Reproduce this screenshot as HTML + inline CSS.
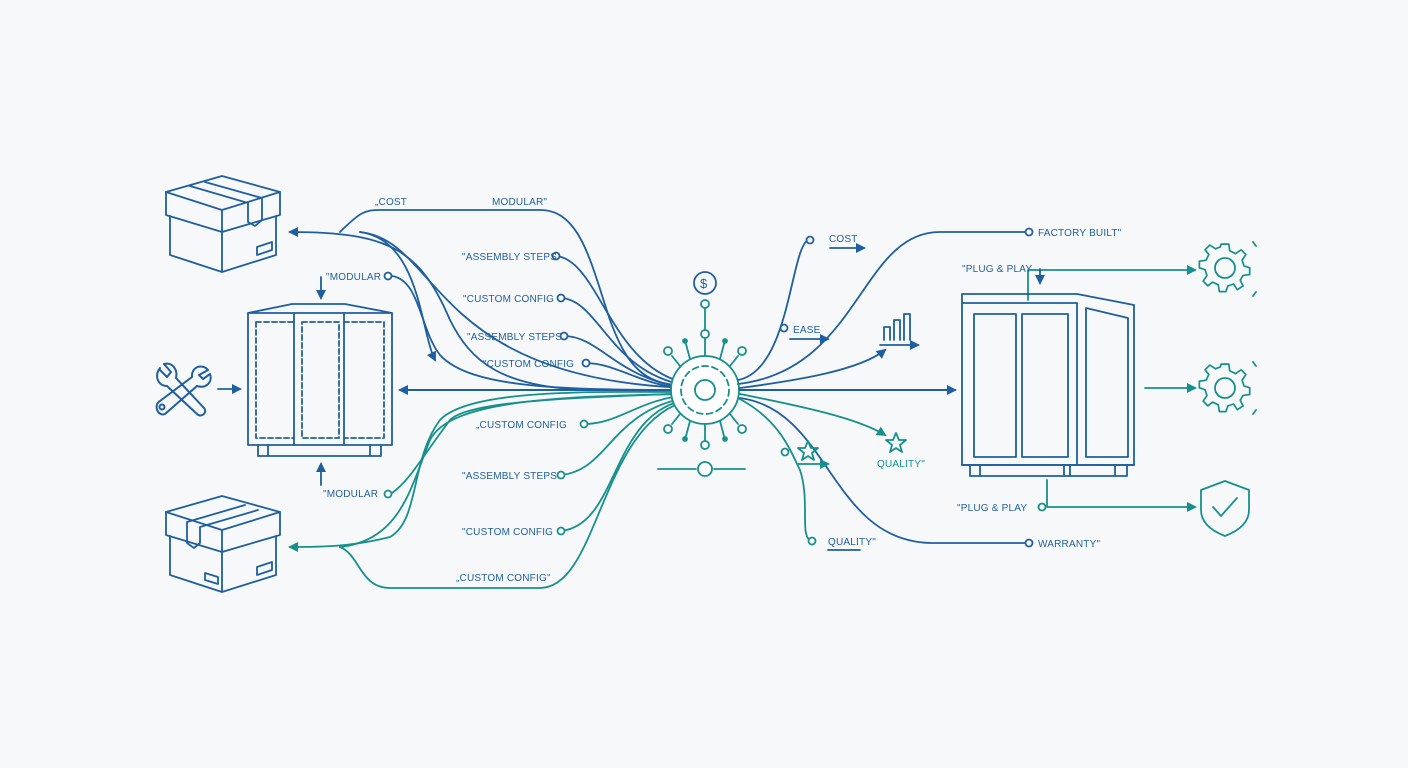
<!DOCTYPE html>
<html><head><meta charset="utf-8"><style>
body{margin:0;background:#f7f8f9;width:1408px;height:768px;overflow:hidden}
svg{display:block}
text{font-family:"Liberation Sans",sans-serif;font-size:10px;letter-spacing:0.2px}
</style></head><body>
<svg width="1408" height="768" viewBox="0 0 1408 768" xmlns="http://www.w3.org/2000/svg">
<defs>
<marker id="ab" markerWidth="10" markerHeight="10" refX="8" refY="5" orient="auto" markerUnits="userSpaceOnUse"><path d="M0,0 L10,5 L0,10 z" fill="#1f5f9e"/></marker>
<marker id="at" markerWidth="10" markerHeight="10" refX="8" refY="5" orient="auto" markerUnits="userSpaceOnUse"><path d="M0,0 L10,5 L0,10 z" fill="#17908c"/></marker>
</defs>
<rect width="1408" height="768" fill="#f7f8f9"/>
<g fill="none" stroke-width="1.8" stroke-linecap="round" stroke-linejoin="round">
<g stroke="#1f5f9e">
<path d="M166,192 L222,176 L280,192 L280,215 L222,232 L166,215 Z"/>
<path d="M166,192 L222,210 L280,192 M222,210 L222,272 M170,216 L170,255 L222,272 L276,255 L276,216"/>
<path d="M190,186 L248,203 M205,182 L262,198 M248,203 L248,222 L255,226 L262,220 L262,198"/>
<path d="M257,247 L272,242 L272,250 L257,255 Z"/>
</g>
<g stroke="#1f5f9e">
<path d="M166,512 L222,496 L280,512 L280,535 L222,552 L166,535 Z"/>
<path d="M166,512 L222,530 L280,512 M222,530 L222,592 M170,536 L170,575 L222,592 L276,575 L276,536"/>
<path d="M187,522 L245,505 M200,527 L258,510 M187,522 L187,543 L194,548 L200,543 L200,527"/>
<path d="M257,567 L272,562 L272,570 L257,575 Z M205,573 L218,577 L218,584 L205,580 Z"/>
</g>
<g stroke="#1f5f9e">
<path d="M248,313 L292,304 L345,304 L392,313"/>
<rect x="248" y="313" width="144" height="132"/>
<path d="M294,313 L294,445 M344,313 L344,445"/>
<path d="M256,322 L294,322 M256,322 L256,438 L294,438 M302,322 L339,322 L339,438 L302,438 Z M344,322 L384,322 L384,438 L344,438" stroke-dasharray="5,3"/>
<path d="M258,445 L258,456 L381,456 L381,445 M268,445 L268,456 M370,445 L370,456"/>
<path d="M321,277 L321,298" marker-end="url(#ab)"/>
<path d="M321,485 L321,464" marker-end="url(#ab)"/>
<path d="M218,389 L240,389" marker-end="url(#ab)"/>
</g>
<g stroke="#1f5f9e" stroke-width="2">
<path d="M160,368 C154,376 158,386 167,386 L197,414 C201,418 208,413 204,408 L176,378 C178,369 172,362 164,364 L171,372 L167,377 L160,370"/>
<path d="M208,370 C202,363 191,367 192,377 L160,401 C153,405 158,417 165,414 L197,386 C206,389 213,382 210,374 L203,379 L199,375 Z"/>
<circle cx="162" cy="407" r="2.5"/>
</g>
<g stroke="#1f5f9e">
<path d="M600,390 C500,390 470,360 450,320 C420,250 390,232 290,232" marker-end="url(#ab)"/>
<path d="M340,232 C360,212 365,210 380,210 L540,210 C580,210 590,260 610,320 C630,375 650,385 690,386"/>
<path d="M360,232 C420,240 420,330 435,360" marker-end="url(#ab)"/>
<path d="M360,232 C440,240 430,380 690,388"/>
<path d="M556,256 C600,260 610,370 690,384"/>
<path d="M561,298 C600,300 610,375 690,386"/>
<path d="M564,336 C600,336 620,382 690,388"/>
<path d="M586,363 C620,364 640,386 690,389"/>
<path d="M392,276 C420,280 420,330 440,355 C470,388 560,390 690,390"/>
<path d="M690,390 L400,390" stroke-width="2" marker-end="url(#ab)"/>
</g>
<g stroke="#1f5f9e" fill="#fff"><circle cx="556" cy="256" r="3.5"/><circle cx="561" cy="298" r="3.5"/><circle cx="564" cy="336" r="3.5"/><circle cx="586" cy="363" r="3.5"/><circle cx="388" cy="276" r="3.5"/></g>
<g stroke="#17908c">
<path d="M690,392 C600,392 470,388 440,420 C410,460 420,520 390,537 C350,547 320,547 290,547" marker-end="url(#at)"/>
<path d="M690,394 C560,396 450,400 430,440 C410,490 400,540 340,547"/>
<path d="M690,393 C580,398 470,400 450,420 C420,460 410,480 392,493"/>
<path d="M584,424 C620,424 640,398 690,395"/>
<path d="M561,475 C610,470 610,410 690,397"/>
<path d="M561,531 C620,525 610,410 690,399"/>
<path d="M340,547 C360,555 360,588 390,588 L540,588 C600,588 600,420 690,400"/>
</g>
<g stroke="#17908c" fill="#fff"><circle cx="584" cy="424" r="3.5"/><circle cx="561" cy="475" r="3.5"/><circle cx="561" cy="531" r="3.5"/><circle cx="388" cy="494" r="3.5"/></g>
<g stroke="#17908c">
<circle cx="705" cy="390" r="34" fill="#fff"/>
<circle cx="705" cy="390" r="10"/>
<circle cx="705" cy="390" r="24" stroke-dasharray="6,4"/>
<path d="M705,356 L705,338 M705,330 L705,308"/>
<circle cx="705" cy="334" r="4" fill="#fff"/><circle cx="705" cy="304" r="4" fill="#fff"/>
<circle cx="705" cy="283" r="11" stroke="#1f5f9e"/>
<path d="M705,424 L705,440"/><circle cx="705" cy="445" r="4" fill="#fff"/>
<path d="M680,366 L672,356 M730,366 L738,356 M680,414 L672,424 M730,414 L738,424 M690,359 L686,344 M720,359 L724,344 M690,421 L686,436 M720,421 L724,436"/>
<circle cx="668" cy="351" r="4" fill="#fff"/><circle cx="742" cy="351" r="4" fill="#fff"/><circle cx="668" cy="429" r="4" fill="#fff"/><circle cx="742" cy="429" r="4" fill="#fff"/>
<circle cx="685" cy="341" r="2" fill="#17908c"/><circle cx="725" cy="341" r="2" fill="#17908c"/><circle cx="685" cy="439" r="2" fill="#17908c"/><circle cx="725" cy="439" r="2" fill="#17908c"/>
<path d="M658,469 L696,469 M714,469 L745,469"/><circle cx="705" cy="469" r="7" fill="#fff"/>
</g>
<text x="700" y="288" fill="#1f5f9e" style="font-size:13px" stroke="none">$</text>
<g stroke="#1f5f9e">
<path d="M738,380 C790,370 790,250 808,240"/>
<path d="M738,384 C860,370 860,232 940,232 L1028,232"/>
<path d="M740,388 C800,380 860,370 885,350" marker-end="url(#ab)"/>
<path d="M740,390 L955,390" stroke-width="2" marker-end="url(#ab)"/>
<path d="M740,398 C830,410 830,540 930,543 L1028,543"/>
<path d="M830,248 L864,248" marker-end="url(#ab)"/>
<path d="M790,339 L828,339" marker-end="url(#ab)"/>
<path d="M880,345 L918,345" marker-end="url(#ab)"/>
<path d="M884,340 L884,327 L890,327 L890,340 M894,340 L894,320 L900,320 L900,340 M904,340 L904,314 L910,314 L910,340"/>
</g>
<g stroke="#17908c">
<path d="M740,394 C820,410 860,420 885,435" marker-end="url(#at)"/>
<path d="M738,398 C780,420 790,450 800,470 C810,500 800,535 810,540"/>
<path d="M1028,300 L1028,270 L1195,270" marker-end="url(#at)"/>
<path d="M1040,269 L1040,283" marker-end="url(#ab)" stroke="#1f5f9e"/>
<path d="M1145,388 L1195,388" marker-end="url(#at)"/>
<path d="M1047,480 L1047,507 L1195,507" marker-end="url(#at)"/>
<path d="M797,464 L828,464" marker-end="url(#at)"/>
<path d="M808,441 L811,448 L818,448 L812,453 L814,460 L808,456 L802,460 L804,453 L798,448 L805,448 Z"/>
<path d="M896,433 L899,440 L906,440 L900,445 L902,452 L896,448 L890,452 L892,445 L886,440 L893,440 Z"/>
</g>
<g fill="#fff">
<circle cx="810" cy="240" r="3.5" stroke="#1f5f9e"/><circle cx="1029" cy="232" r="3.5" stroke="#1f5f9e"/><circle cx="784" cy="328" r="3.5" stroke="#1f5f9e"/><circle cx="1029" cy="543" r="3.5" stroke="#1f5f9e"/>
<circle cx="812" cy="541" r="3.5" stroke="#17908c"/><circle cx="785" cy="452" r="3.5" stroke="#17908c"/><circle cx="1042" cy="507" r="3.5" stroke="#17908c"/>
</g>
<path d="M828,550 L860,550" stroke="#1f5f9e"/>
<g stroke="#1f5f9e">
<path d="M962,303 L962,294 L1077,294 L1134,305 L1134,465 L962,465 Z M962,303 L1077,303 L1077,465"/>
<rect x="974" y="314" width="42" height="143"/><rect x="1022" y="314" width="46" height="143"/>
<path d="M1086,308 L1128,318 L1128,457 L1086,457 Z"/>
<path d="M962,465 L1134,465 M970,465 L970,476 L1127,476 L1127,465 M980,465 L980,476 M1064,465 L1064,476 M1070,465 L1070,476 M1115,465 L1115,476"/>
</g>
<g stroke="#17908c">
<g transform="translate(1225,268)"><path id="gear" d="M-4,-22 L4,-22 L5,-15 L11,-12 L17,-16 L22,-11 L18,-5 L20,1 L26,3 L26,10 L19,11 L16,16 L19,22 L13,26 L9,20 L3,22 L1,28 L-6,28 L-7,21 L-13,18 L-18,22 L-23,17 L-19,11 L-21,5 L-27,3 L-27,-4 L-20,-5 L-17,-11 L-21,-16 L-16,-21 L-10,-17 L-5,-19 Z" transform="translate(0,-3) scale(0.95)"/><circle r="10"/></g>
<g transform="translate(1225,388)"><use href="#gear"/><circle r="10"/></g>
<path d="M1225,481 L1249,490 L1249,510 C1249,523 1238,531 1225,536 C1212,531 1201,523 1201,510 L1201,490 Z"/>
<path d="M1213,507 L1221,516 L1237,498"/>
<path d="M1253,242 L1256,246 M1253,296 L1256,292 M1253,362 L1256,366 M1253,414 L1256,410"/>
</g>
</g>
<g fill="#1f5f9e">
<text x="375" y="205">„COST</text><text x="492" y="205">MODULAR"</text>
<text x="462" y="260">"ASSEMBLY STEPS</text><text x="463" y="302">"CUSTOM CONFIG</text>
<text x="467" y="340">"ASSEMBLY STEPS</text><text x="483" y="367">"CUSTOM CONFIG</text>
<text x="326" y="280">"MODULAR</text><text x="323" y="497">"MODULAR</text>
<text x="476" y="428">„CUSTOM CONFIG</text><text x="462" y="479">"ASSEMBLY STEPS</text>
<text x="462" y="535">"CUSTOM CONFIG</text><text x="456" y="581">„CUSTOM CONFIG"</text>
<text x="829" y="242">COST</text><text x="793" y="333">EASE</text>
<text x="1038" y="236">FACTORY BUILT"</text><text x="962" y="272">"PLUG &amp; PLAY</text>
<text x="957" y="511">"PLUG &amp; PLAY</text><text x="1038" y="547">WARRANTY"</text>
<text x="828" y="545">QUALITY"</text>
</g>
<text x="877" y="467" fill="#17908c">QUALITY"</text>
</svg>
</body></html>
